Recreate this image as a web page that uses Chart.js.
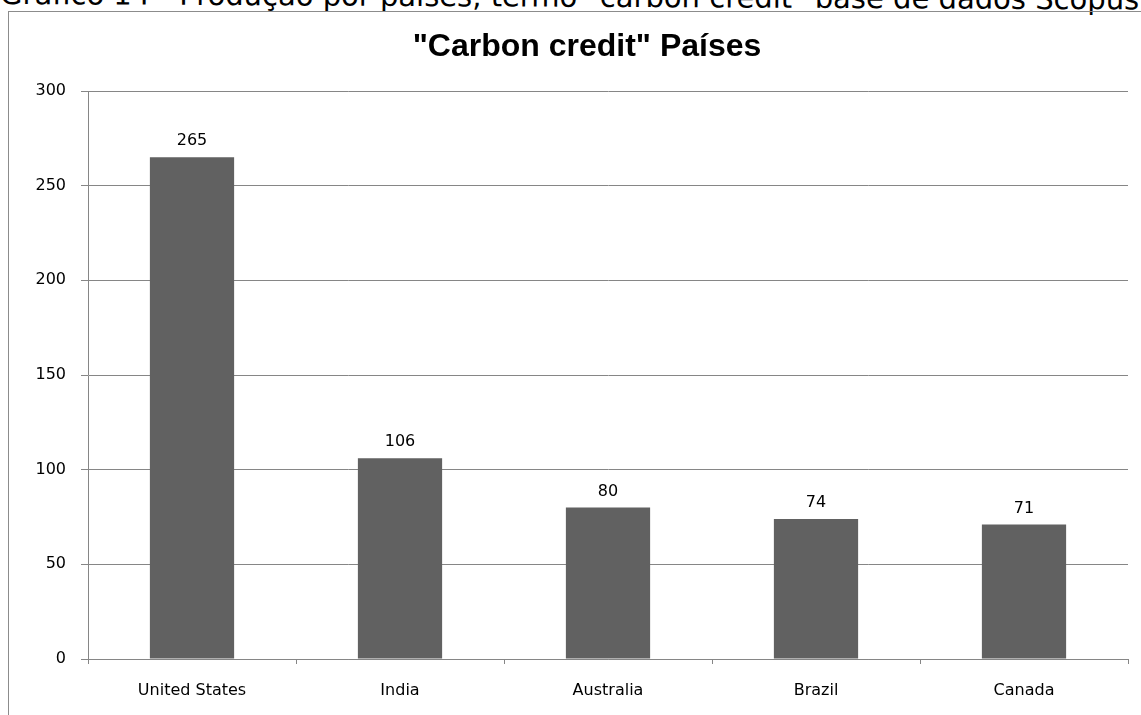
<!DOCTYPE html>
<html>
<head>
<meta charset="utf-8">
<script src="https://cdn.jsdelivr.net/npm/chart.js@4"></script>
<style>
  html, body { margin: 0; padding: 0; background: #fff; overflow: hidden; }
  body { width: 1141px; height: 715px; position: relative; }
  #caption {
    position: absolute; left: 0; top: -20px; white-space: nowrap; line-height: 1;
    font-family: "DejaVu Sans", sans-serif; font-size: 29px; color: #000;
    transform: rotate(0.27deg); transform-origin: 0 100%;
  }
  #frame {
    position: absolute; left: 8px; top: 11px; width: 1200px; height: 760px;
    border-left: 1px solid #8c8c8c; border-top: 1px solid #8c8c8c;
  }
  #wrap { position: absolute; left: 0; top: 0; width: 1141px; height: 715px; }
</style>
</head>
<body>
<div id="caption">Gráfico 14 - Produção por países, termo "carbon credit" base de dados Scopus</div>
<div id="frame"></div>
<div id="wrap"><canvas id="myChart" width="1141" height="715"></canvas></div>
<script>
const paises = ["United States", "India", "Australia", "Brazil", "Canada"];
const documentos = [265, 106, 80, 74, 71];
const yTicks = [0, 50, 100, 150, 200, 250, 300];

const gridColor = "#868686";
const fontTick = { family: '"DejaVu Sans", sans-serif', size: 16 };

// Tulis nilai di atas setiap batang
const valueLabels = {
  id: "valueLabels",
  afterLayout(chart) {
    // geser judul supaya tengahnya sama dengan bingkai
    if (chart.titleBlock) chart.titleBlock.left += 46;
  },
  afterDatasetsDraw(chart) {
    const ctx = chart.ctx;
    const meta = chart.getDatasetMeta(0);
    ctx.save();
    ctx.font = '16px "DejaVu Sans", sans-serif';
    ctx.fillStyle = "#000";
    ctx.textAlign = "center";
    ctx.textBaseline = "bottom";
    meta.data.forEach((bar, i) => {
      ctx.fillText(String(documentos[i]), bar.x, bar.y - 8);
    });
    ctx.restore();
  },
};

const ctx = document.getElementById("myChart").getContext("2d");
new Chart(ctx, {
  type: "bar",
  data: {
    labels: paises,
    datasets: [
      {
        label: '"Carbon credit" Países',
        data: documentos,
        backgroundColor: "#616161",
        borderWidth: 0,
        barPercentage: 0.405,
        categoryPercentage: 1,
      },
    ],
  },
  options: {
    responsive: false,
    animation: false,
    devicePixelRatio: 1,
    layout: { padding: { left: 0, right: 13, top: 0, bottom: 0 } },
    plugins: {
      legend: { display: false },
      tooltip: { enabled: false },
      title: {
        display: true,
        text: '"Carbon credit" Países',
        color: "#000",
        font: { family: '"Liberation Sans", sans-serif', size: 32, weight: "bold" },
        padding: { top: 28, bottom: 24.6 },
      },
    },
    scales: {
      x: {
        grid: {
          offset: true,
          drawOnChartArea: false,
          drawTicks: true,
          tickLength: 5,
          color: gridColor,
        },
        border: { color: gridColor, width: 1 },
        ticks: {
          color: "#000",
          font: fontTick,
          padding: 17,
          maxRotation: 0,
        },
        afterFit(scale) { scale.height = 56; },
      },
      y: {
        min: 0,
        max: 300,
        afterBuildTicks(scale) { scale.ticks = yTicks.map((v) => ({ value: v })); },
        grid: { color: gridColor, tickLength: 7 },
        border: { color: gridColor, width: 1 },
        ticks: {
          color: "#000",
          font: fontTick,
          padding: 15,
        },
        afterFit(scale) { scale.width = 88; },
      },
    },
  },
  plugins: [valueLabels],
});
</script>
</body>
</html>
